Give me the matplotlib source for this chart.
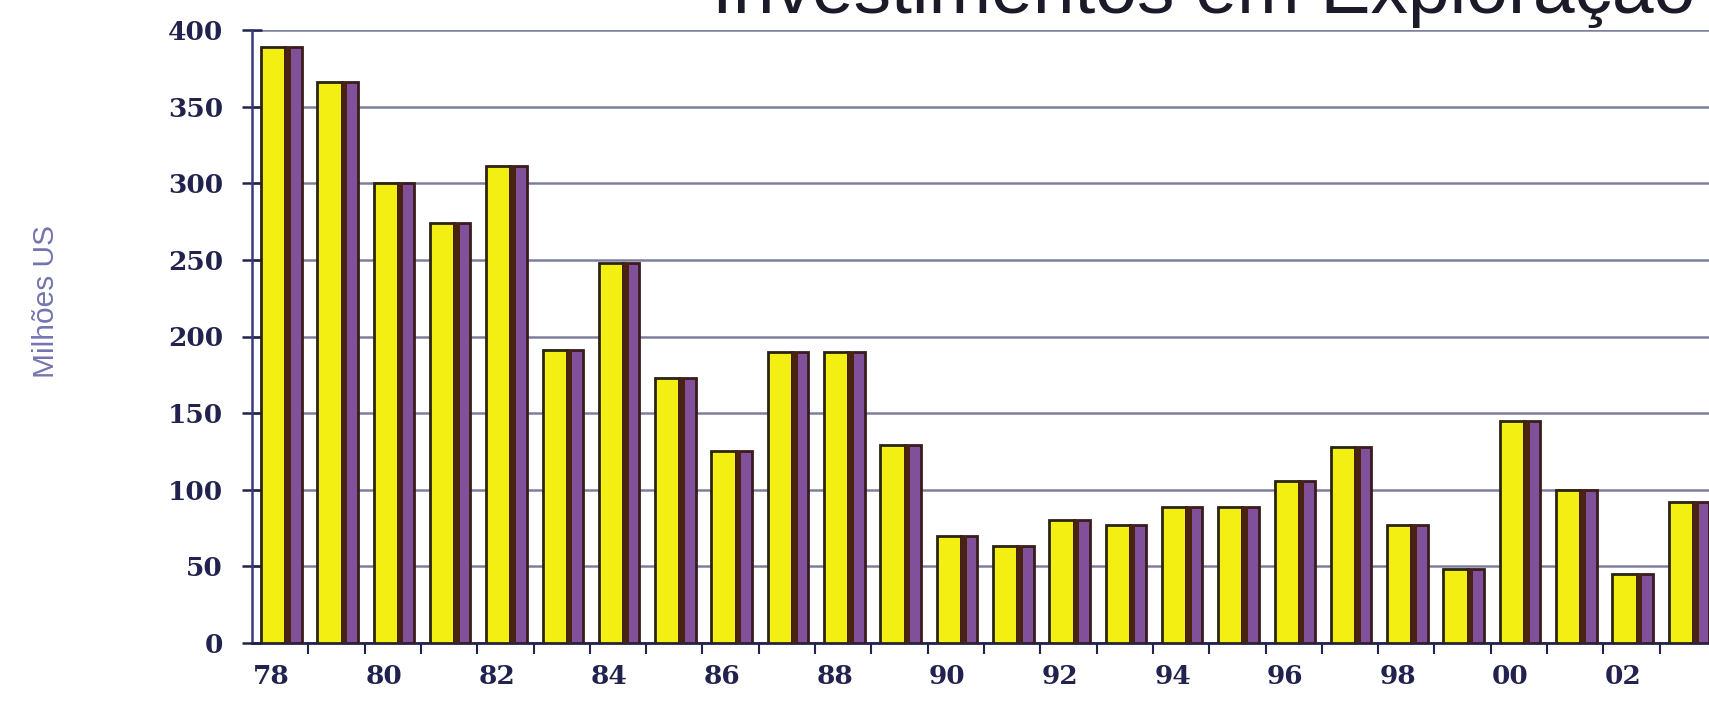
import numpy as np
import matplotlib.pyplot as plt

# anos e investimentos (milhões US$)
anos = ["78", "79", "80", "81", "82", "83", "84", "85", "86", "87", "88", "89", "90",
        "91", "92", "93", "94", "95", "96", "97", "98", "99", "00", "01", "02", "03"]
valores = [389, 366, 300, 274, 311, 191, 248, 173, 125, 190, 190, 129, 70,
           63, 80, 77, 89, 89, 106, 128, 77, 48, 145, 100, 45, 92]
yticks = [0, 50, 100, 150, 200, 250, 300, 350, 400]

W, H = 1709, 705
fig = plt.figure(figsize=(W / 100, H / 100), dpi=100)
fig.patch.set_facecolor("white")

# l'axe depasse un peu le bord droit (image recadree)
left, right = 252, 1716
bottom, top = 643, 30
ax = fig.add_axes([left / W, (H - bottom) / H, (right - left) / W, (bottom - top) / H])

x = np.arange(len(anos))
navy = "#22224e"

# face jaune + cote violet (effet 3D)
ax.bar(x - 0.34, valores, width=0.43, align="edge", color="#f3ef12",
       edgecolor="#2a2410", linewidth=2, zorder=3)
ax.bar(x + 0.09, valores, width=0.29, align="edge", color="#80509a",
       edgecolor="#3a1c1c", linewidth=2, zorder=3)
ax.bar(x + 0.09, valores, width=0.1, align="edge", color="#4a2212",
       linewidth=0, zorder=4)

ax.set_xlim(-0.5, len(anos) - 0.5)
ax.set_ylim(0, 400)

ax.set_yticks(yticks)
ax.set_yticklabels([str(v) for v in yticks])
ax.grid(axis="y", color="#7e7e9c", linewidth=1.8, zorder=0)
ax.set_axisbelow(True)

# labels sous les annees paires, ticks aux limites
pares = [i for i in range(len(anos)) if i % 2 == 0]
ax.set_xticks([i - 0.15 for i in pares])
ax.set_xticklabels([anos[i] for i in pares])
ax.set_xticks(x + 0.5, minor=True)
ax.tick_params(axis="x", which="major", length=0, pad=15)
ax.tick_params(axis="x", which="minor", length=8, width=1.5, color=navy, direction="out")
ax.tick_params(axis="y", length=14, width=1.8, color=navy, direction="inout", pad=14)

for lab in ax.get_xticklabels() + ax.get_yticklabels():
    lab.set_family("DejaVu Serif")
    lab.set_fontweight("bold")
    lab.set_color(navy)
for lab in ax.get_xticklabels():
    lab.set_fontsize(19)
for lab in ax.get_yticklabels():
    lab.set_fontsize(19)

for s in ["top", "right"]:
    ax.spines[s].set_visible(False)
ax.spines["left"].set_color("#3a3a7a")
ax.spines["left"].set_linewidth(1.8)
ax.spines["bottom"].set_color(navy)
ax.spines["bottom"].set_linewidth(2)
ax.set_facecolor("white")

# titre coupe en haut
fig.text(1204 / W, (H - 13) / H, "Investimentos em Exploração", ha="center", va="baseline",
         fontsize=54, family="Liberation Sans", color="#1a1a28")

fig.text(46 / W, (H - 302) / H, "Milhões US", rotation=90, ha="center", va="center",
         fontsize=21.5, family="Liberation Sans", color="#7474b0")

fig.savefig("out.png", dpi=100)
